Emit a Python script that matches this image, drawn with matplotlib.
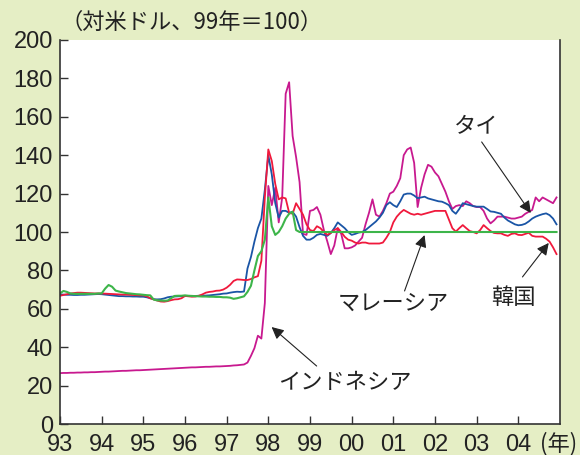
import matplotlib
matplotlib.use('Agg')
import matplotlib.pyplot as plt
import numpy as np

# monthly index, 99 = 100, Jan 1993 .. Dec 2004
indonesia = [
    26.5, 26.6, 26.6, 26.7, 26.7, 26.8, 26.8, 26.9, 26.9, 27.0, 27.0, 27.1,
    27.2, 27.3, 27.3, 27.4, 27.5, 27.6, 27.7, 27.7, 27.8, 27.9, 28.0, 28.0,
    28.1, 28.2, 28.3, 28.4, 28.5, 28.6, 28.7, 28.8, 28.9, 29.0, 29.1, 29.2,
    29.3, 29.4, 29.5, 29.5, 29.6, 29.7, 29.8, 29.8, 29.9, 30.0, 30.0, 30.1,
    30.2, 30.3, 30.5, 30.6, 30.8, 31.0, 32.0, 35.5, 39.5, 46.0, 44.5, 63.0,
    124, 114, 123, 105, 118, 172, 178, 150, 139, 126, 99, 98.5,
    111, 111.5, 113, 109, 101, 95, 88.5, 93, 102, 99, 91.5, 91.5,
    92, 93, 95, 97, 104, 110, 117, 109, 108, 111, 115, 120,
    121, 124, 128, 140, 143, 144, 136, 113, 123, 130, 135, 134,
    131, 129, 125, 121, 116, 112, 113.5, 114, 113.5, 116, 115, 113.5,
    113, 113, 111, 107, 104.5, 106, 108, 108, 108, 107.5, 107, 107,
    107.5, 108, 109.5, 110.5, 111.5, 118, 116, 118, 117, 116, 115, 118]

thailand = [
    67.5, 67.4, 67.3, 67.3, 67.2, 67.2, 67.3, 67.3, 67.4, 67.5, 67.6, 67.7,
    67.6, 67.4, 67.2, 67.0, 66.8, 66.6, 66.6, 66.5, 66.5, 66.4, 66.4, 66.3,
    66.3, 66.0, 65.5, 65.0, 64.9, 65.0, 65.4, 66.0, 66.3, 66.4, 66.5, 66.6,
    66.6, 66.7, 66.7, 66.7, 66.8, 66.8, 66.9, 67.0, 67.2, 67.4, 67.6, 67.9,
    68.0, 68.4, 68.7, 68.9, 68.8, 69.0, 81, 87, 95, 102, 107, 122,
    140, 130, 115, 107.5, 111, 111, 110, 110.5, 108, 102.5, 98, 96,
    96, 97, 98.5, 99, 98.5, 98, 99.5, 102, 105, 103.5, 102, 100,
    98.5, 99, 99.7, 100, 101, 102.5, 104, 105.5, 107.5, 110, 114, 115.5,
    114, 113, 116, 119.5, 120, 120, 119, 117.6, 118, 118.4, 117.5, 117,
    116.5, 116, 115.8, 115, 114, 111, 109.5, 112, 115, 114.5, 114, 113.5,
    113.2, 113.2, 113.2, 112, 110.7, 110.5, 110, 109.5, 107.5, 106, 105, 104,
    103.5, 103.7, 104.3, 105.5, 107, 108, 108.7, 109.3, 109.7, 108.8, 107, 104]

korea = [
    66.8, 67.2, 67.6, 68.0, 68.2, 68.4, 68.4, 68.3, 68.2, 68.1, 68.0, 68.0,
    68.0, 67.9, 67.8, 67.7, 67.6, 67.5, 67.4, 67.4, 67.3, 67.2, 67.1, 67.0,
    67.0, 66.5, 65.5, 64.9, 64.3, 63.8, 63.7, 64.0, 64.5, 64.9, 65.0, 65.5,
    66.7, 66.5, 66.3, 66.4, 66.8, 67.5, 68.4, 68.8, 69.0, 69.4, 69.5, 70.0,
    71.0, 72.5, 74.5, 75.3, 75.2, 75.0, 75.0, 75.5, 76.4, 77.0, 85, 118,
    143, 137, 125, 117, 118, 117.5, 110, 109.5, 115, 112, 109, 104,
    101, 100.5, 103, 102, 100, 98.5, 99.5, 101, 102, 100, 97.5, 96,
    95.5, 94.5, 94, 94.5, 94.5, 94, 94, 94, 94, 94.5, 97, 100,
    105, 108, 110, 111.5, 110.5, 109.5, 109, 109.5, 109, 109.5, 110, 110.5,
    111, 111, 111, 111, 106.5, 102, 100.2, 102, 103.6, 102, 100.5, 100,
    99.3, 101, 103.6, 102, 100.5, 99.5, 99.3, 99.3, 98.5, 98, 99, 99.3,
    98.5, 98.4, 99, 99.6, 98, 97.6, 97.6, 97.6, 96.5, 95, 92, 88.5]

malaysia = [
    68.0, 69.3, 68.8, 68.0, 67.8, 67.8, 67.8, 67.8, 67.8, 67.8, 67.8, 68.0,
    68.0, 70.5, 72.4, 71.5, 69.5, 69.0, 68.6, 68.2, 68.0, 67.8, 67.6, 67.5,
    67.3, 67.1, 67.0, 64.8, 64.4, 64.3, 64.2, 64.3, 65.5, 66.7, 66.8, 66.8,
    67.0, 66.8, 66.7, 66.6, 66.5, 66.4, 66.4, 66.3, 66.3, 66.2, 66.2, 66.0,
    66.0, 65.8, 65.2, 65.5, 66.0, 66.5, 68.8, 72.0, 80, 87.5, 90, 96,
    118, 103, 98.5, 100, 103, 107, 109.5, 110.6, 101, 100, 100, 100] + [100.0] * 72

years = [93, 94, 95, 96, 97, 98, 99, 100, 101, 102, 103, 104]
year_labels = ['93', '94', '95', '96', '97', '98', '99', '00', '01', '02', '03', '04']

x = 93 + np.arange(len(indonesia)) / 12

bg = '#e5eec5'
jp = ['Noto Sans CJK JP', 'DejaVu Sans']

fig = plt.figure(figsize=(5.8, 4.55), dpi=100, facecolor=bg)
ax = fig.add_axes([0.1034, 0.0681, 0.8621, 0.844])
ax.set_facecolor('white')

ax.plot(x, indonesia, color='#c8198f', lw=1.3)
ax.plot(x, thailand, color='#1a55a6', lw=1.3)
ax.plot(x, korea, color='#f0193c', lw=1.3)
ax.plot(x, malaysia, color='#3db54a', lw=1.5)

ax.set_xlim(93, 105)
ax.set_ylim(0, 200)
ax.set_xticks(years)
ax.set_xticklabels(year_labels)
ax.set_yticks(range(0, 201, 20))
for lab in ax.get_xticklabels() + ax.get_yticklabels():
    lab.set_family('Liberation Sans')
ax.tick_params(direction='in', length=6, width=1, labelsize=17, colors='#333333')
ax.tick_params(axis='x', pad=7.5)
ax.tick_params(axis='y', pad=5)
ax.tick_params(axis='both', labelcolor='#222222')

ax.spines['top'].set_visible(False)
for s in ['left', 'bottom', 'right']:
    ax.spines[s].set_color('#333333')
    ax.spines[s].set_linewidth(1.2)

arrow = dict(arrowstyle='-|>', color='#222222', lw=0.8, mutation_scale=18, shrinkA=0, shrinkB=0)

ax.text(103.0, 154.7, 'タイ', family=jp, fontsize=16, ha='center', va='center', color='#222222')
ax.annotate('', xy=(104.3, 109.9), xytext=(103.12, 146.9), arrowprops=arrow)

ax.text(100.99, 63, 'マレーシア', family=jp, fontsize=16, ha='center', va='center', color='#222222')
ax.annotate('', xy=(101.75, 98.4), xytext=(101.27, 69.3), arrowprops=arrow)

ax.text(103.89, 66.1, '韓国', family=jp, fontsize=16, ha='center', va='center', color='#222222')
ax.annotate('', xy=(104.73, 94.3), xytext=(104.1, 76.6), arrowprops=arrow)

ax.text(99.83, 21.4, 'インドネシア', family=jp, fontsize=16, ha='center', va='center', color='#222222')
ax.annotate('', xy=(98.08, 50.5), xytext=(99.16, 30.2), arrowprops=arrow)

fig.text(60 / 580, 0.9516, '（対米ドル、99年＝100）', family=jp, fontsize=16,
         ha='left', va='center', color='#222222')
fig.text(540 / 580, 0.024, '(年)', family=jp, fontsize=16,
         ha='left', va='center', color='#222222')

fig.savefig('out.png', dpi=100, facecolor=bg)
